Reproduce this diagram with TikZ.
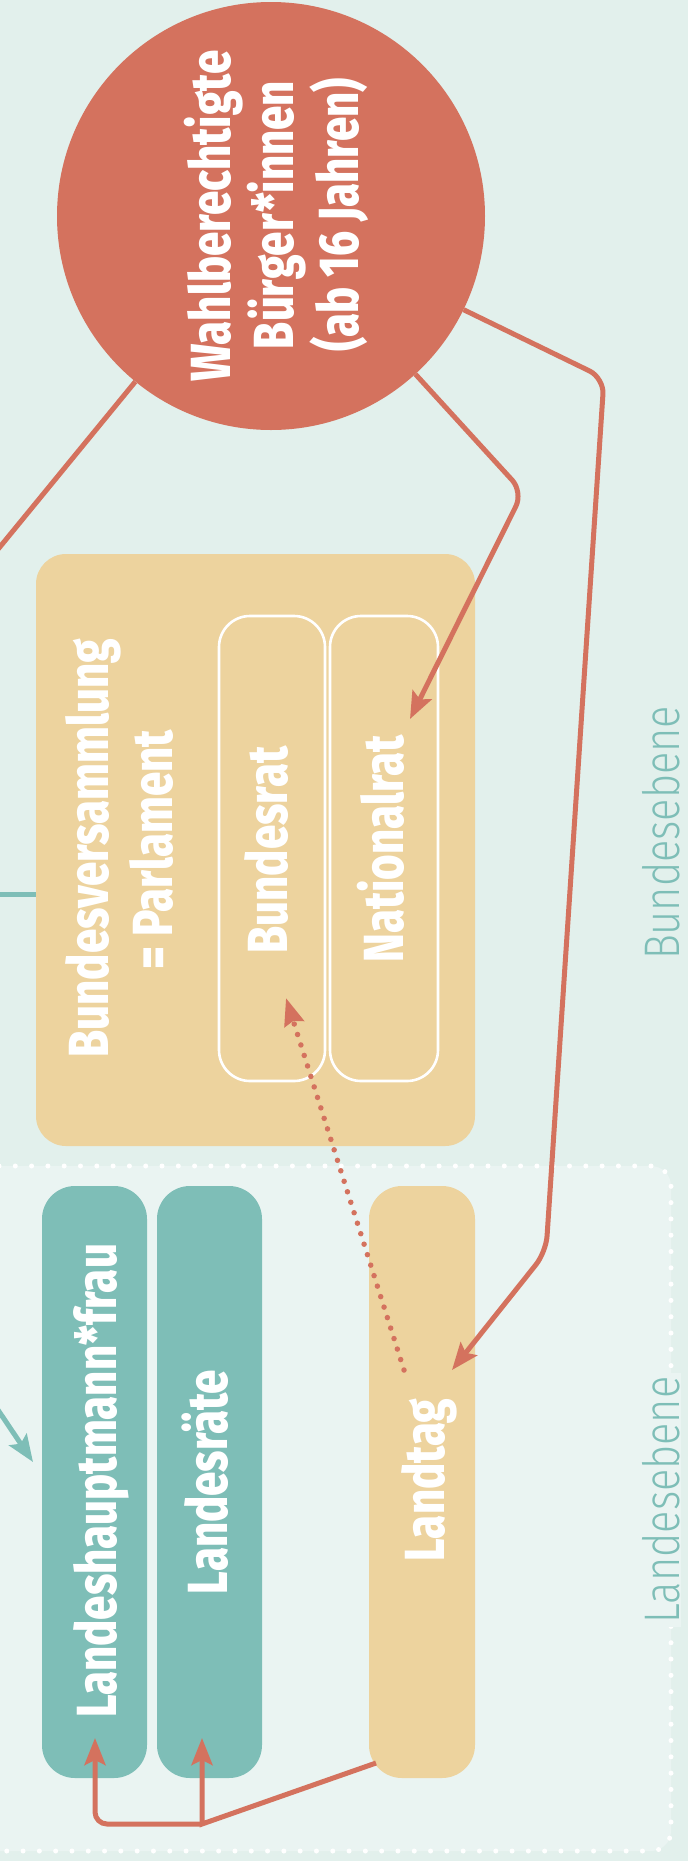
\documentclass[tikz,border=0pt]{standalone}
\usepackage{fontspec}
\setmainfont{Fira Sans}
\IfFontExistsTF{Fira Sans ExtraBold}{\newfontfamily\boldc{Fira Sans ExtraBold}[FakeStretch=0.775]}{\newfontfamily\boldc{Fira Sans Bold}[FakeStretch=0.80,FakeBold=2]}
\IfFontExistsTF{Fira Sans Light}{\newfontfamily\lightc{Fira Sans Light}[FakeStretch=0.83]}{\newfontfamily\lightc{Fira Sans}[FakeStretch=0.83]}
\usetikzlibrary{arrows.meta}
\definecolor{bgc}{HTML}{E2F0EC}
\definecolor{regc}{HTML}{EAF4F2}
\definecolor{tanc}{HTML}{EDD39E}
\definecolor{tealc}{HTML}{7EBEB7}
\definecolor{redc}{HTML}{D4725E}
\begin{document}
\begin{tikzpicture}[x=1pt,y=-1pt,
  lbl/.style={text=white, font=\boldc\fontsize{56.5}{64}\selectfont, rotate=90, anchor=base, inner sep=0pt},
  side/.style={text=tealc, font=\lightc\fontsize{50}{60}\selectfont, rotate=90, anchor=base, inner sep=0pt},
  tanbox/.style={fill=tanc, rectangle, inner sep=0pt, rounded corners=30pt},
  tealbox/.style={fill=tealc, rectangle, inner sep=0pt, rounded corners=33pt},
  housebox/.style={draw=white, line width=2.6pt, rectangle, inner sep=0pt, rounded corners=31pt},
  redline/.style={draw=redc, line width=5pt, rounded corners=16pt},
  redarrow/.style={redline, -{Stealth[length=27pt,width=21pt,inset=5pt]}},
  dotarrow/.style={draw=redc, line width=5.5pt, line cap=round, dash pattern=on 0pt off 11pt, -{Stealth[length=27pt,width=20pt,inset=3pt]}},
  tealline/.style={draw=tealc, line width=5pt},
  tealarrow/.style={tealline, -{Stealth[length=27pt,width=21pt,inset=5pt]}},
]
\useasboundingbox (0,0) rectangle (688,1861);
\fill[bgc] (0,0) rectangle (688,1861);

% Landesebene region
\node[rectangle, inner sep=0pt, minimum width=701pt, minimum height=685pt, fill=regc,
      draw=white, line width=5pt, line cap=round, dash pattern=on 0pt off 16.3pt,
      rounded corners=20pt] (land) at (320.5,1508.5) {};

% free ends of connectors
\coordinate (offL) at (-10,559);
\coordinate (tl) at (-10,894);
\coordinate (ta) at (-10,1398);
\coordinate (taTip) at (33,1462);

% Bundesversammlung
\node[tanbox, minimum width=439pt, minimum height=592pt] (bv) at (255.5,850) {};
\node[housebox, minimum width=106pt, minimum height=465pt] (br) at (272,848.5) {};
\node[housebox, minimum width=108pt, minimum height=465pt] (nr) at (384,848.5) {};
\node[lbl] (bvt1) at (108,848) {Bundesversammlung};
\node[lbl] (bvt2) at (172,850) {= Parlament};
\node[lbl] (brt) at (287,850) {Bundesrat};
\node[lbl] (nrt) at (403,849) {Nationalrat};

% Landesebene boxes
\node[tealbox, minimum width=105pt, minimum height=592pt] (lh) at (94.5,1482) {};
\node[tealbox, minimum width=105pt, minimum height=592pt] (lr) at (209.5,1482) {};
\node[tanbox, rounded corners=33pt, minimum width=106pt, minimum height=592pt] (lt) at (422,1482) {};
\node[lbl] (lht) at (116,1481) {Landeshauptmann*frau};
\node[lbl] (lrt) at (227,1482) {Landesräte};
\node[lbl] (ltt) at (444,1480) {Landtag};

% side labels
\node[side] (bundes) at (679,833) {Bundesebene};
\node[side, fill=regc, inner xsep=4pt, inner ysep=1pt] (landes) at (679,1500) {Landesebene};

% circle
\node[circle, fill=redc, minimum size=428pt, inner sep=0pt] (circ) at (271,216) {};
\node[lbl] (c1t) at (230,216) {Wahlberechtigte};
\node[lbl] (c2t) at (293,215) {Bürger*innen};
\node[lbl] (c3t) at (358,215) {(ab 16 Jahren)};

% connector bends and tips
\coordinate (k1) at (523,492);
\coordinate (natTip) at (410,719);
\coordinate (k2) at (604,378);
\coordinate (k3) at (546,1252);
\coordinate (ltTip) at (452,1370);
\coordinate (ltStart) at (404,1370);
\coordinate (brTip) at (286,998);
\coordinate (ltBL) at (376,1763);
\coordinate (junc) at (202,1824);
\coordinate (lrTip) at (202,1738);
\coordinate (k4) at (95,1824);
\coordinate (lhTip) at (95,1738);

% red connectors
\draw[redline] (circ) -- (offL);
\draw[redarrow] (circ) -- (k1) -- (natTip);
\draw[redarrow] (circ) -- (k2) -- (k3) -- (ltTip);
\draw[dotarrow] (ltStart) -- (brTip);
\draw[redarrow, rounded corners=0pt] (ltBL) -- (junc) -- (lrTip);
\draw[redarrow, rounded corners=12pt] (junc) -- (k4) -- (lhTip);

% teal connectors
\draw[tealline] (tl) -- (tl -| bv.west);
\draw[tealarrow] (ta) -- (taTip);
\end{tikzpicture}
\end{document}
